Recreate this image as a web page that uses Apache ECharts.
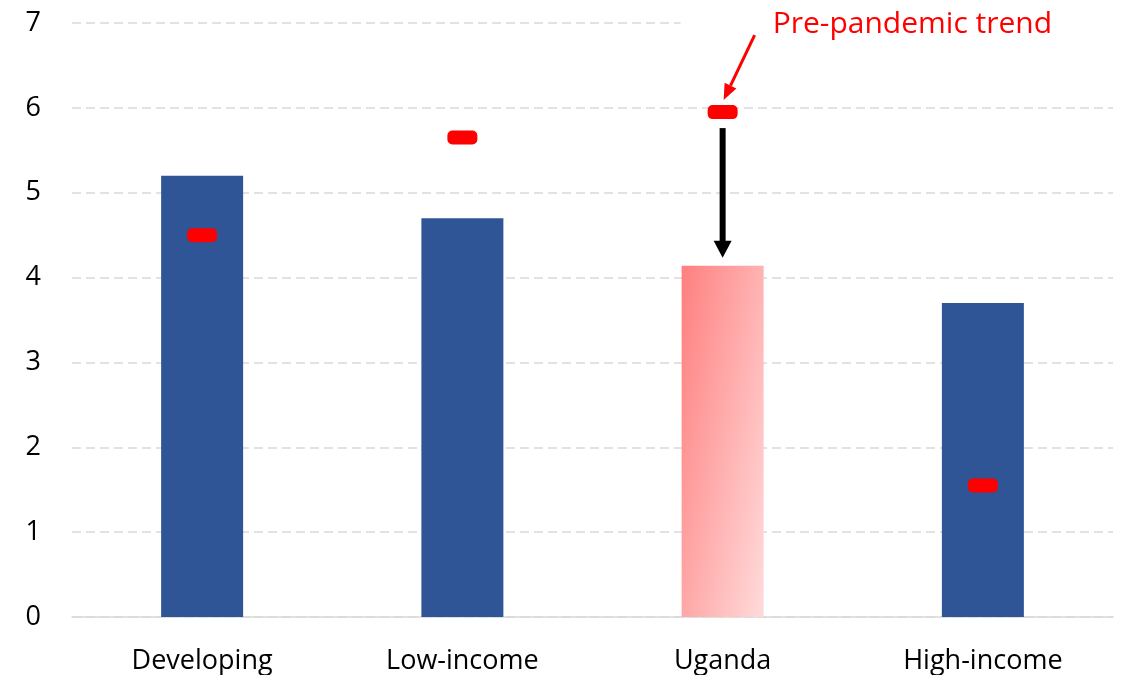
<!DOCTYPE html>
<html>
<head>
<meta charset="utf-8">
<script src="https://cdn.jsdelivr.net/npm/echarts@6/dist/echarts.min.js"></script>
<style>
  html, body { margin: 0; padding: 0; background: #fff; }
  #chart { width: 1125px; height: 675px; }
</style>
</head>
<body>
<div id="chart"></div>
<script>
// Growth by country group, with the pre-pandemic trend marked for each group
const categories = ['Developing', 'Low-income', 'Uganda', 'High-income'];
const actualValues = [5.2, 4.7, 4.14, 3.7];
const trendValues = [4.5, 5.65, 5.95, 1.55];
const yTicks = [0, 1, 2, 3, 4, 5, 6, 7];
const highlightCategory = 'Uganda';
const annotationText = 'Pre-pandemic trend';

const FONT = '"Open Sans", "Liberation Sans", sans-serif';
const BLUE = '#2F5597';
const RED = '#FF0000';
// rounded pill used for the trend markers
const PILL = 'path://M5,0 H25 A5,5 0 0 1 30,5 V9 A5,5 0 0 1 25,14 H5 A5,5 0 0 1 0,9 V5 A5,5 0 0 1 5,0 Z';

const chart = echarts.init(document.getElementById('chart'), null, { renderer: 'canvas' });

const barData = actualValues.map((v, i) => {
  if (categories[i] !== highlightCategory) return v;
  return {
    value: v,
    itemStyle: {
      // mostly left-to-right fade with a slight downward tilt
      color: new echarts.graphic.LinearGradient(0, 0, 1.72, 0.072, [
        { offset: 0, color: '#FF7F7F' },
        { offset: 1, color: '#FFDBDB' }
      ])
    }
  };
});

chart.setOption({
  animation: false,
  backgroundColor: '#ffffff',
  grid: { left: 72, right: 12, top: 23, bottom: 58, containLabel: false },
  xAxis: {
    type: 'category',
    data: categories,
    axisLine: { show: true, lineStyle: { color: '#D9D9D9', width: 1.5 } },
    axisTick: { show: false },
    axisLabel: { color: '#000', fontFamily: FONT, fontSize: 27, margin: 31 },
    splitLine: { show: false }
  },
  yAxis: {
    type: 'value',
    min: yTicks[0],
    max: yTicks[yTicks.length - 1],
    interval: 1,
    axisLine: { show: false },
    axisTick: { show: false },
    axisLabel: { color: '#000', fontFamily: FONT, fontSize: 27, margin: 31 },
    splitLine: { show: true, lineStyle: { color: '#D9D9D9', width: 1.5, type: [9, 5] } }
  },
  series: [
    {
      name: 'Actual',
      type: 'bar',
      data: barData,
      barWidth: 82,
      itemStyle: { color: BLUE },
      z: 2
    },
    {
      name: annotationText,
      type: 'scatter',
      data: trendValues,
      symbol: PILL,
      symbolSize: [30, 14],
      itemStyle: { color: RED, opacity: 1 },
      z: 5
    }
  ]
});

// Annotations: the drop arrow on the highlighted group and the trend callout
function drawAnnotations() {
  const idx = categories.indexOf(highlightCategory);
  const trendPt = chart.convertToPixel({ seriesIndex: 0 }, [idx, trendValues[idx]]);
  const barPt = chart.convertToPixel({ seriesIndex: 0 }, [idx, actualValues[idx]]);
  const topPt = chart.convertToPixel({ seriesIndex: 0 }, [idx, yTicks[yTicks.length - 1]]);
  const cx = trendPt[0];

  const arrowTopY = trendPt[1] + 16;
  const arrowTipY = barPt[1] - 8;
  const headH = 17, headW = 9;

  const redTip = [cx + 1, trendPt[1] - 12];
  const redTail = [cx + 32, trendPt[1] - 77];
  const dx = redTail[0] - redTip[0], dy = redTail[1] - redTip[1];
  const len = Math.sqrt(dx * dx + dy * dy);
  const ux = dx / len, uy = dy / len;
  const rHead = 16, rHalf = 6.5;
  const base = [redTip[0] + ux * rHead, redTip[1] + uy * rHead];

  chart.setOption({
    graphic: [
      // white box behind the callout text
      {
        type: 'rect',
        shape: { x: cx - 42, y: topPt[1] - 12, width: 1125 - (cx - 42), height: 24 },
        style: { fill: '#ffffff' },
        z: 10
      },
      {
        type: 'text',
        x: cx + 50,
        y: topPt[1] + 1,
        style: {
          text: annotationText,
          fill: RED,
          font: '30px ' + FONT,
          verticalAlign: 'middle'
        },
        z: 11
      },
      // black drop arrow
      {
        type: 'line',
        shape: { x1: cx, y1: arrowTopY, x2: cx, y2: arrowTipY - headH + 2 },
        style: { stroke: '#000', lineWidth: 6 },
        z: 12
      },
      {
        type: 'polygon',
        shape: { points: [[cx - headW, arrowTipY - headH], [cx + headW, arrowTipY - headH], [cx, arrowTipY]] },
        style: { fill: '#000' },
        z: 12
      },
      // red callout arrow
      {
        type: 'line',
        shape: { x1: redTail[0], y1: redTail[1], x2: base[0], y2: base[1] },
        style: { stroke: RED, lineWidth: 3 },
        z: 12
      },
      {
        type: 'polygon',
        shape: {
          points: [
            redTip,
            [base[0] - uy * rHalf, base[1] + ux * rHalf],
            [base[0] + uy * rHalf, base[1] - ux * rHalf]
          ]
        },
        style: { fill: RED },
        z: 12
      }
    ]
  });
}
drawAnnotations();
</script>
</body>
</html>
